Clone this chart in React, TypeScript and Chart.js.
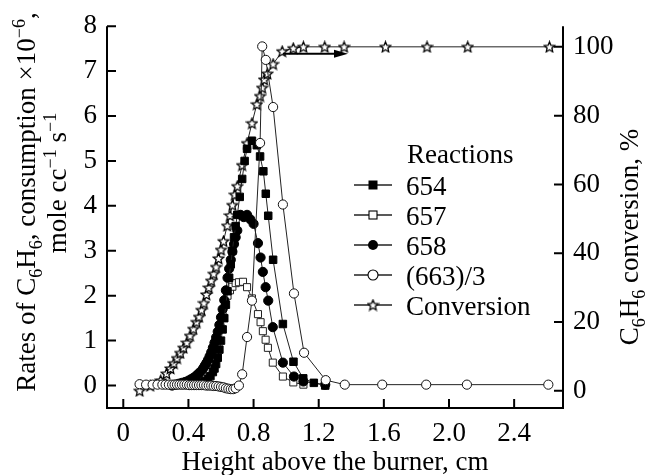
import React, { useEffect, useRef } from 'react';
import { Chart, registerables } from 'chart.js';
Chart.register(...registerables);

const FONT = "'Liberation Serif', 'Times New Roman', serif";
const FS = 27;

// Tick values
const xTicks = [0, 0.4, 0.8, 1.2, 1.6, 2.0, 2.4];
const yLeftTicks = [0, 1, 2, 3, 4, 5, 6, 7, 8];
const yRightTicks = [0, 20, 40, 60, 80, 100];

// Reaction 654 (filled squares)
const r654X = [0.42, 0.45, 0.48, 0.50, 0.52, 0.535, 0.55, 0.56, 0.57, 0.58, 0.59, 0.60, 0.61, 0.62, 0.63, 0.64, 0.65, 0.66, 0.67, 0.68, 0.69, 0.70, 0.715, 0.73, 0.745, 0.76, 0.79, 0.82, 0.84, 0.86, 0.875, 0.89, 0.92, 0.98, 1.045, 1.105, 1.17, 1.24];
const r654Y = [0.02, 0.04, 0.07, 0.10, 0.15, 0.21, 0.30, 0.38, 0.48, 0.62, 0.80, 1.0, 1.25, 1.5, 1.8, 2.1, 2.4, 2.7, 3.0, 3.3, 3.55, 3.8, 4.2, 4.6, 5.0, 5.27, 5.45, 5.35, 5.1, 4.77, 4.27, 3.78, 2.8, 1.37, 0.53, 0.16, 0.06, 0.0];

// Reaction 657 (open squares)
const r657X = [0.30, 0.35, 0.40, 0.44, 0.48, 0.51, 0.53, 0.55, 0.565, 0.58, 0.595, 0.61, 0.625, 0.64, 0.655, 0.67, 0.69, 0.71, 0.735, 0.76, 0.79, 0.827, 0.843, 0.857, 0.874, 0.888, 0.918, 0.98, 1.044, 1.106];
const r657Y = [0.0, 0.02, 0.04, 0.07, 0.12, 0.20, 0.30, 0.45, 0.70, 1.00, 1.30, 1.55, 1.80, 2.00, 2.12, 2.20, 2.28, 2.30, 2.31, 2.19, 1.94, 1.59, 1.41, 1.21, 1.02, 0.84, 0.51, 0.20, 0.07, 0.02];

// Reaction 658 (filled circles)
const r658X = [0.30, 0.32, 0.34, 0.36, 0.38, 0.40, 0.415, 0.43, 0.445, 0.46, 0.475, 0.49, 0.50, 0.51, 0.52, 0.53, 0.54, 0.55, 0.56, 0.57, 0.58, 0.59, 0.60, 0.61, 0.62, 0.63, 0.64, 0.65, 0.66, 0.67, 0.68, 0.69, 0.70, 0.72, 0.74, 0.76, 0.78, 0.80, 0.827, 0.843, 0.857, 0.874, 0.89, 0.918, 0.98, 1.048, 1.106, 1.24];
const r658Y = [0.0, 0.02, 0.04, 0.06, 0.08, 0.11, 0.14, 0.17, 0.21, 0.26, 0.31, 0.38, 0.44, 0.50, 0.57, 0.65, 0.74, 0.84, 0.95, 1.07, 1.20, 1.35, 1.52, 1.70, 1.90, 2.12, 2.40, 2.60, 2.80, 2.98, 3.15, 3.30, 3.45, 3.80, 3.75, 3.80, 3.70, 3.60, 3.17, 2.85, 2.53, 2.19, 1.89, 1.30, 0.51, 0.20, 0.09, 0.02];

// Reaction (663)/3 (open circles)
const r663X = [0.10, 0.14, 0.18, 0.21, 0.24, 0.26, 0.28, 0.30, 0.315, 0.33, 0.345, 0.36, 0.375, 0.39, 0.405, 0.42, 0.435, 0.45, 0.465, 0.48, 0.495, 0.51, 0.525, 0.54, 0.555, 0.57, 0.585, 0.60, 0.615, 0.63, 0.645, 0.66, 0.675, 0.69, 0.71, 0.73, 0.76, 0.79, 0.84, 0.853, 0.875, 0.92, 0.98, 1.048, 1.11, 1.243, 1.36, 1.59, 1.86, 2.11, 2.61];
const r663Y = [0.03, 0.02, 0.02, 0.02, 0.02, 0.02, 0.02, 0.02, 0.02, 0.02, 0.02, 0.02, 0.02, 0.02, 0.01, 0.01, 0.01, 0.01, 0.01, 0.01, 0.01, 0.0, 0.0, 0.0, -0.01, -0.01, -0.02, -0.03, -0.04, -0.06, -0.07, -0.08, -0.08, -0.06, 0.0, 0.25, 1.08, 1.89, 5.4, 7.55, 7.25, 6.2, 4.03, 2.05, 0.73, 0.12, 0.02, 0.02, 0.02, 0.02, 0.02];

// Conversion, % (stars, right axis)
const convX = [0.10, 0.165, 0.23, 0.265, 0.29, 0.31, 0.33, 0.35, 0.37, 0.39, 0.41, 0.43, 0.45, 0.465, 0.48, 0.495, 0.51, 0.525, 0.54, 0.555, 0.57, 0.585, 0.60, 0.615, 0.638, 0.655, 0.67, 0.685, 0.70, 0.73, 0.76, 0.79, 0.82, 0.84, 0.853, 0.865, 0.885, 0.92, 0.976, 1.044, 1.106, 1.237, 1.356, 1.61, 1.865, 2.115, 2.617];
const convY = [0, 1.5, 3, 5, 6.5, 8, 9.5, 11, 12.5, 14, 16, 18, 20, 21.5, 23.5, 25.5, 28, 30, 32, 34, 36, 38.5, 41, 43.5, 48, 51, 54, 57, 59.5, 65.6, 72, 77.8, 83.3, 85.7, 88.1, 90.5, 92.2, 95, 98.7, 99.6, 100, 100, 100, 100, 100, 100, 100];

// Arrow pointing to the right axis (x in cm, y in % conversion)
const arrowX = [0.98, 1.38];
const arrowY = [98, 98];

const legendLabels = ['654', '657', '658', '(663)/3', 'Conversion'];

type Run = { t: string; k?: 'sub' | 'sup' };

function drawRich(ctx: CanvasRenderingContext2D, runs: Run[], bx: number, by: number, rotate: boolean, size: number) {
  ctx.save();
  ctx.translate(bx, by);
  if (rotate) ctx.rotate(-Math.PI / 2);
  const small = Math.round(size * 0.68);
  const widths = runs.map((r) => {
    ctx.font = `${r.k ? small : size}px ${FONT}`;
    return ctx.measureText(r.t).width;
  });
  const total = widths.reduce((a, b) => a + b, 0);
  let x = -total / 2;
  ctx.textBaseline = 'alphabetic';
  ctx.textAlign = 'left';
  ctx.fillStyle = '#000';
  runs.forEach((r, i) => {
    ctx.font = `${r.k ? small : size}px ${FONT}`;
    const dy = r.k === 'sub' ? size * 0.25 : r.k === 'sup' ? -size * 0.38 : 0;
    ctx.fillText(r.t, x, dy);
    x += widths[i];
  });
  ctx.restore();
}

function makeStar(size: number) {
  const c = document.createElement('canvas');
  c.width = size;
  c.height = size;
  const ctx = c.getContext('2d')!;
  const cx = size / 2, cy = size / 2 + 0.5, R = size / 2 - 1, r = R * 0.45;
  ctx.beginPath();
  for (let i = 0; i < 10; i++) {
    const ang = -Math.PI / 2 + (i * Math.PI) / 5;
    const rad = i % 2 === 0 ? R : r;
    const px = cx + rad * Math.cos(ang);
    const py = cy + rad * Math.sin(ang);
    if (i === 0) ctx.moveTo(px, py); else ctx.lineTo(px, py);
  }
  ctx.closePath();
  ctx.fillStyle = '#fff';
  ctx.fill();
  ctx.lineWidth = 1.3;
  ctx.strokeStyle = '#000';
  ctx.stroke();
  return c;
}

const pts = (xs: number[], ys: number[]) => xs.map((x, i) => ({ x, y: ys[i] }));

export default function App() {
  const ref = useRef<HTMLCanvasElement>(null);
  useEffect(() => {
    const star = makeStar(13);
    const lineColor = '#222';

    const decor = {
      id: 'decor',
      afterDatasetsDraw(chart: any) {
        const { ctx, scales } = chart;
        const x1 = scales.x.getPixelForValue(arrowX[0]);
        const x2 = scales.x.getPixelForValue(arrowX[1]);
        const y = scales.y2.getPixelForValue(arrowY[0]);
        ctx.save();
        ctx.strokeStyle = '#000';
        ctx.fillStyle = '#000';
        ctx.lineWidth = 2;
        ctx.beginPath();
        ctx.moveTo(x1, y);
        ctx.lineTo(x2 - 10, y);
        ctx.stroke();
        ctx.beginPath();
        ctx.moveTo(x2, y);
        ctx.lineTo(x2 - 14, y - 4);
        ctx.lineTo(x2 - 14, y + 4);
        ctx.closePath();
        ctx.fill();
        ctx.restore();
      },
      afterDraw(chart: any) {
        const { ctx, chartArea: a, scales } = chart;
        ctx.save();
        ctx.strokeStyle = '#000';
        ctx.lineWidth = 2;
        ctx.lineJoin = 'miter';
        ctx.beginPath();
        ctx.moveTo(a.left, a.top);
        ctx.lineTo(a.left, a.bottom);
        ctx.lineTo(a.right, a.bottom);
        ctx.lineTo(a.right, a.top);
        ctx.stroke();
        const tl = 9;
        ctx.beginPath();
        xTicks.forEach((v) => {
          const p = scales.x.getPixelForValue(v);
          ctx.moveTo(p, a.bottom);
          ctx.lineTo(p, a.bottom - tl);
        });
        yLeftTicks.forEach((v) => {
          const p = scales.y.getPixelForValue(v);
          ctx.moveTo(a.left, p);
          ctx.lineTo(a.left + tl, p);
        });
        yRightTicks.forEach((v) => {
          const p = scales.y2.getPixelForValue(v);
          ctx.moveTo(a.right, p);
          ctx.lineTo(a.right - tl, p);
        });
        ctx.stroke();

        // Axis titles
        drawRich(ctx, [
          { t: 'Rates of C' }, { t: '6', k: 'sub' }, { t: 'H' }, { t: '6', k: 'sub' },
          { t: ', consumption \u00d710' }, { t: '\u22126', k: 'sup' }, { t: ',' },
        ], 35, 202, true, FS);
        drawRich(ctx, [
          { t: 'mole cc' }, { t: '\u22121', k: 'sup' }, { t: ' s' }, { t: '\u22121', k: 'sup' },
        ], 66, 183, true, FS);
        drawRich(ctx, [
          { t: 'C' }, { t: '6', k: 'sub' }, { t: 'H' }, { t: '6', k: 'sub' }, { t: ' conversion, %' },
        ], 638, 237, true, FS);
        drawRich(ctx, [{ t: 'Height above the burner, cm' }], 335, 470, false, FS);

        // Legend
        ctx.fillStyle = '#000';
        ctx.font = `${FS}px ${FONT}`;
        ctx.textAlign = 'left';
        ctx.textBaseline = 'alphabetic';
        ctx.fillText('Reactions', 407, 163);
        const rows = [185, 215, 245, 275, 305];
        const mx = 373;
        legendLabels.forEach((lab, i) => {
          const y = rows[i];
          ctx.strokeStyle = lineColor;
          ctx.lineWidth = 1.3;
          ctx.beginPath();
          ctx.moveTo(354, y);
          ctx.lineTo(392, y);
          ctx.stroke();
          ctx.lineWidth = 1.1;
          ctx.strokeStyle = '#000';
          if (i === 0) {
            ctx.fillStyle = '#000';
            ctx.fillRect(mx - 4.5, y - 4.5, 9, 9);
          } else if (i === 1) {
            ctx.fillStyle = '#fff';
            ctx.fillRect(mx - 4, y - 4, 8, 8);
            ctx.strokeRect(mx - 4, y - 4, 8, 8);
          } else if (i === 2) {
            ctx.fillStyle = '#000';
            ctx.beginPath();
            ctx.arc(mx, y, 5, 0, Math.PI * 2);
            ctx.fill();
          } else if (i === 3) {
            ctx.fillStyle = '#fff';
            ctx.beginPath();
            ctx.arc(mx, y, 5, 0, Math.PI * 2);
            ctx.fill();
            ctx.stroke();
          } else {
            ctx.drawImage(star, mx - 6.5, y - 6.5);
          }
          ctx.fillStyle = '#000';
          ctx.fillText(lab, 406, y + 10);
        });
        ctx.restore();
      },
    };

    const tickFont = { family: FONT, size: FS };

    const chart = new Chart(ref.current!, {
      type: 'scatter',
      data: {
        datasets: [
          {
            label: '(663)/3', data: pts(r663X, r663Y), yAxisID: 'y', showLine: true,
            borderColor: lineColor, borderWidth: 1, pointStyle: 'circle', pointRadius: 4.6,
            pointBackgroundColor: '#fff', pointBorderColor: '#111', pointBorderWidth: 1,
          },
          {
            label: '654', data: pts(r654X, r654Y), yAxisID: 'y', showLine: true,
            borderColor: lineColor, borderWidth: 1, pointStyle: 'rect', pointRadius: 5.3,
            pointBackgroundColor: '#000', pointBorderColor: '#000', pointBorderWidth: 1,
          },
          {
            label: '658', data: pts(r658X, r658Y), yAxisID: 'y', showLine: true,
            borderColor: lineColor, borderWidth: 1, pointStyle: 'circle', pointRadius: 4.6,
            pointBackgroundColor: '#000', pointBorderColor: '#000', pointBorderWidth: 1,
          },
          {
            label: '657', data: pts(r657X, r657Y), yAxisID: 'y', showLine: true,
            borderColor: lineColor, borderWidth: 1, pointStyle: 'rect', pointRadius: 5,
            pointBackgroundColor: '#fff', pointBorderColor: '#222', pointBorderWidth: 1,
          },
          {
            label: 'Conversion', data: pts(convX, convY), yAxisID: 'y2', showLine: true,
            borderColor: lineColor, borderWidth: 1, pointStyle: star as any, pointRadius: 6,
          },
        ],
      },
      options: {
        responsive: false,
        animation: false,
        events: [],
        layout: { padding: { left: 0, right: 0, top: 22, bottom: 0 } },
        plugins: { legend: { display: false }, tooltip: { enabled: false }, title: { display: false } },
        scales: {
          x: {
            type: 'linear', min: -0.1, max: 2.7,
            afterBuildTicks: (s: any) => { s.ticks = xTicks.map((v) => ({ value: v })); },
            afterFit: (s: any) => { s.height = 67; },
            grid: { display: false, drawTicks: false },
            border: { display: false },
            ticks: {
              font: tickFont, color: '#000', padding: 10, maxRotation: 0, autoSkip: false,
              callback: (v: any) => (Number(v) === 0 ? '0' : Number(v).toFixed(1)),
            },
          },
          y: {
            type: 'linear', position: 'left', min: -0.5, max: 8,
            afterBuildTicks: (s: any) => { s.ticks = yLeftTicks.map((v) => ({ value: v })); },
            afterFit: (s: any) => { s.width = 107; },
            grid: { display: false, drawTicks: false },
            border: { display: false },
            ticks: { font: tickFont, color: '#000', padding: 10, callback: (v: any) => String(v) },
          },
          y2: {
            type: 'linear', position: 'right', min: -5, max: 106,
            afterBuildTicks: (s: any) => { s.ticks = yRightTicks.map((v) => ({ value: v })); },
            afterFit: (s: any) => { s.width = 82; },
            grid: { display: false, drawTicks: false },
            border: { display: false },
            ticks: { font: tickFont, color: '#000', padding: 10, callback: (v: any) => String(v) },
          },
        },
      },
      plugins: [decor],
    } as any);
    return () => chart.destroy();
  }, []);
  return (
    <div style={{ position: 'absolute', left: 0, top: 0, width: 645, height: 475, background: '#fff' }}>
      <canvas ref={ref} width={645} height={475} style={{ display: 'block' }} />
    </div>
  );
}
